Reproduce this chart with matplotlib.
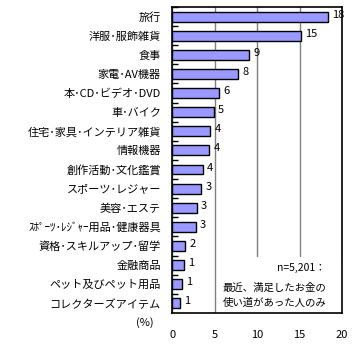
import numpy as np
import matplotlib.pyplot as plt
from matplotlib.patches import Rectangle
plt.rcParams['font.family'] = ['Noto Sans CJK JP', 'DejaVu Sans']

categories = [
    '旅行', '洋服･服飾雑貨', '食事', '家電･AV機器', '本･CD･ビデオ･DVD',
    '車･バイク', '住宅･家具･インテリア雑貨', '情報機器', '創作活動･文化鑑賞',
    'スポーツ･レジャー', '美容･エステ', 'ｽﾎﾟｰﾂ･ﾚｼﾞｬｰ用品･健康器具',
    '資格･スキルアップ･留学', '金融商品', 'ペット及びペット用品', 'コレクターズアイテム',
]
values = [18.3, 15.2, 9.1, 7.8, 5.5, 4.9, 4.5, 4.4, 3.6, 3.4, 2.9, 2.8, 1.5, 1.4, 1.2, 0.9]
xticks = [0, 5, 10, 15, 20]

fig = plt.figure(figsize=(3.6, 3.5), dpi=100)
ax = fig.add_axes([0.478, 0.106, 0.472, 0.874])

y = np.arange(len(categories))
ax.set_axisbelow(True)
ax.barh(y, values, height=0.52, color='#9999FF', edgecolor='black', linewidth=1, zorder=3)
for yi, v in zip(y, values):
    ax.text(v + 0.5, yi - 0.1, '%d' % round(v), ha='left', va='center', fontsize=8, zorder=4)

ax.set_xlim(0, 20)
ax.set_ylim(len(categories) - 0.5, -0.5)
ax.set_xticks(xticks)
ax.set_xticklabels([str(t) for t in xticks], fontsize=8)
ax.tick_params(axis='x', length=0, pad=12)
ax.set_yticks(y)
ax.set_yticklabels(categories, fontsize=8)
ax.tick_params(axis='y', length=0, pad=8)
ax.set_yticks(y - 0.5, minor=True)
ax.tick_params(axis='y', which='minor', direction='in', length=4, width=1)
for s in ax.spines.values():
    s.set_linewidth(1.2)
ax.grid(axis='x', color='#808080', linewidth=1, zorder=0)

# white note area over the grid lines
ax.add_patch(Rectangle((5.9, 12.6), 14.1, 2.9, facecolor='white', edgecolor='none', zorder=1))
ax.text(18.0, 13.15, 'n=5,201：', ha='right', va='center', fontsize=7.5, zorder=2)
ax.text(18.2, 14.56, '最近、満足したお金の\n使い道があった人のみ', ha='right', va='center',
        fontsize=7.5, linespacing=1.55, zorder=2)

ax.text(-2.2, 16.0, '(%)', ha='right', va='center', fontsize=8, clip_on=False)

fig.savefig('out.png', dpi=100)
